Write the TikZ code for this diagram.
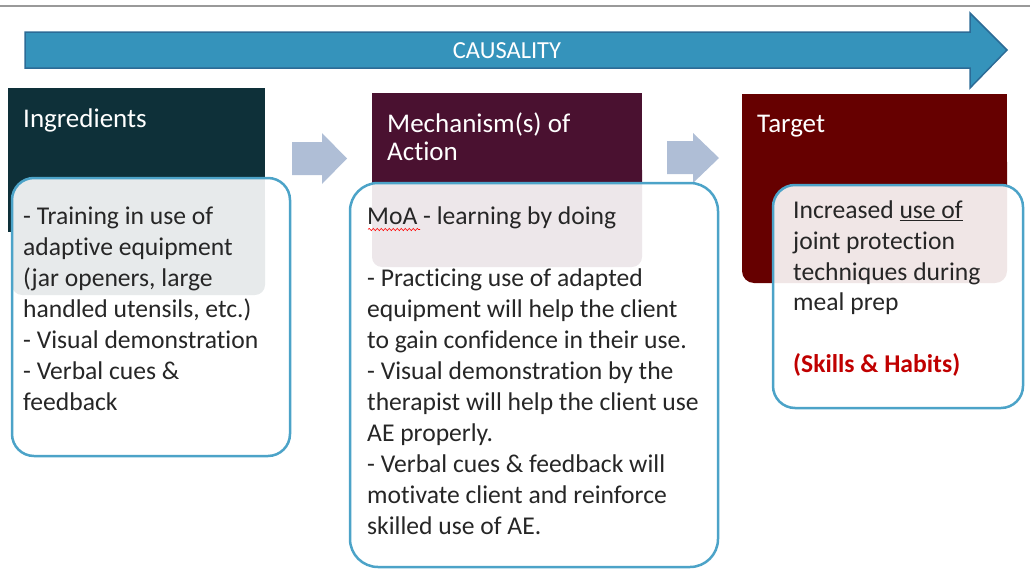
\documentclass[tikz,border=0pt]{standalone}
\usepackage{fontspec}
\setmainfont{Carlito}[Ligatures=NoCommon]
\usetikzlibrary{decorations.pathmorphing}
\definecolor{ingr}{HTML}{0E3039}
\definecolor{mech}{HTML}{4A1130}
\definecolor{targ}{HTML}{660000}
\definecolor{bigfill}{HTML}{3593BB}
\definecolor{bigline}{HTML}{2C6B96}
\definecolor{smallarr}{HTML}{AFBED6}
\definecolor{boxline}{HTML}{4CA3C8}
\definecolor{txt}{HTML}{262626}
\definecolor{redtxt}{HTML}{C00000}
\definecolor{topline}{HTML}{999999}
\tikzset{
  hdrtext/.style={font=\fontsize{27}{28}\selectfont, text=white, align=left, inner sep=0pt, anchor=north west},
  bodytext/.style={font=\fontsize{25.6}{31}\selectfont, text=txt, align=left, inner sep=0pt, anchor=north west},
  textbox/.style={draw=boxline, line width=2.5pt, fill=white, fill opacity=0.9},
  blockarrow/.style={fill=smallarr},
}
\begin{document}
\begin{tikzpicture}[x=1pt,y=-1pt]
\useasboundingbox (0,0) rectangle (1030,570);
% top rule
\draw[topline, line width=1.5pt] (0,6) -- (1030,6);
% causality arrow
\draw[fill=bigfill, draw=bigline, line width=1.5pt, line join=miter]
  (25,32) -- (970,32) -- (970,13) -- (1007,50) -- (970,88) -- (970,68) -- (25,68) -- cycle;
\node (causality) at (507,51) {\fontsize{24.5}{26}\selectfont\color{white}CAUSALITY};
% headers
\fill[ingr] (8,88) rectangle (265,232);
\fill[ingr, rounded corners=10pt] (12,200) rectangle (265,295);
\fill[mech] (372,93) rectangle (642,190);
\fill[mech, rounded corners=10pt] (372,160) rectangle (642,267);
\fill[targ] (742,94) rectangle (1007,220);
\fill[targ, rounded corners=12pt] (742,150) rectangle (1007,283);
\node[hdrtext] (hingr) at (23,107.4) {\strut Ingredients};
\node[hdrtext] (hmech) at (387,112.4) {\strut Mechanism(s) of\\Action};
\node[hdrtext] (htarg) at (757,112.4) {\strut Target};
% small block arrows
\fill[blockarrow] (292,142) -- (322,142) -- (322,133) -- (347,158.5) -- (322,184) -- (322,175) -- (292,175) -- cycle;
\fill[blockarrow] (667,141) -- (693,141) -- (693,133) -- (719,158) -- (693,183) -- (693,174) -- (667,174) -- cycle;
% text boxes
\draw[textbox, rounded corners=22pt] (12,178) rectangle (290,456);
\draw[textbox, rounded corners=28pt] (350,183) rectangle (718,567);
\draw[textbox, rounded corners=22pt] (773,185) rectangle (1023,408);
% body texts
\node[bodytext] (bingr) at (23,202.3) {\strut - Training in use of\\adaptive equipment\\(jar openers, large\\handled utensils, etc.)\\- Visual demonstration\\- Verbal cues \&\\feedback};
\node[bodytext] (bmech) at (367,202.3) {\strut MoA - learning by doing\\[31pt]- Practicing use of adapted\\equipment will help the client\\to gain confidence in their use.\\- Visual demonstration by the\\therapist will help the client use\\AE properly.\\- Verbal cues \& feedback will\\motivate client and reinforce\\skilled use of AE.};
\node[bodytext, font=\fontsize{25.6}{30.7}\selectfont] (btarg) at (793,197) {\strut Increased \underline{use of}\\joint protection\\techniques during\\meal prep\\[30.7pt]\textcolor{redtxt}{\textbf{(Skills \& Habits)}}};
% spelling squiggle under MoA
\draw[red, line width=0.6pt, decorate, decoration={snake, amplitude=1.1pt, segment length=4pt}] (368,229.5) -- (420,229.5);
\end{tikzpicture}
\end{document}
